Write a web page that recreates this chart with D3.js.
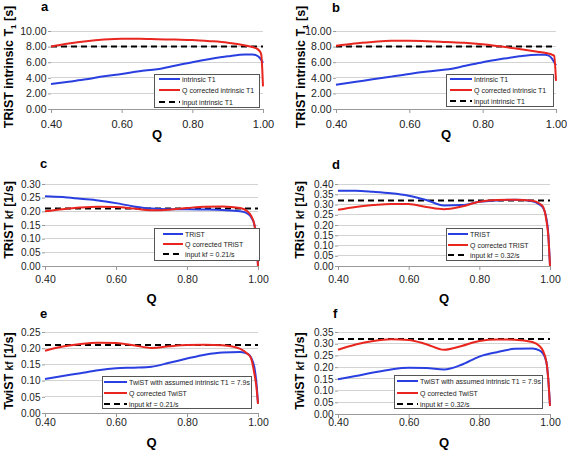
<!DOCTYPE html>
<html><head><meta charset="utf-8">
<script src="https://cdn.jsdelivr.net/npm/d3@7"></script>
<style>body{margin:0;background:#fff}svg{display:block}text{font-family:"Liberation Sans",Arial,sans-serif}</style>
</head><body><svg id="chart" width="567" height="451"></svg>
<script>
// Q grid shared by all series
const qValues = [0.40,0.45,0.50,0.55,0.60,0.65,0.70,0.75,0.80,0.85,0.90,0.95,0.97,0.98,0.99,0.995,1.00];
const xTicks = [0.40,0.60,0.80,1.00];

// a
const aIntrinsic = [3.2,3.5,3.8,4.2,4.5,4.85,5.1,5.55,6.0,6.4,6.75,7.0,7.0,6.9,6.6,6.3,5.9];
const aCorrected = [8.0,8.4,8.7,8.9,9.0,9.0,8.95,8.9,8.85,8.7,8.5,8.15,7.95,7.8,7.45,7.0,2.9];
const aInput = 8.0;
const aTicks = [0,2,4,6,8,10];
const aLegend = ["intrinsic T1","Q corrected intrinsic T1","input intrinsic T1"];
// b
const bIntrinsic = [3.1,3.45,3.8,4.15,4.5,4.8,5.05,5.5,6.0,6.4,6.75,6.95,6.95,6.85,6.4,6.0,5.6];
const bCorrected = [8.1,8.4,8.6,8.75,8.75,8.7,8.6,8.5,8.3,8.0,7.7,7.35,7.2,7.1,6.95,6.8,3.6];
const bInput = 8.0;
const bTicks = [0,2,4,6,8,10];
const bLegend = ["Intrinsic T1","Q corrected intrinsic T1","input intrinsic T1"];
// c
const cTrist = [0.255,0.252,0.246,0.240,0.230,0.218,0.210,0.208,0.208,0.207,0.205,0.200,0.192,0.180,0.150,0.110,0.0];
const cCorrected = [0.200,0.208,0.214,0.217,0.216,0.210,0.204,0.206,0.212,0.217,0.218,0.212,0.200,0.185,0.150,0.100,0.0];
const cInput = 0.21;
const cTicks = [0,0.05,0.10,0.15,0.20,0.25,0.30];
const cLegend = ["TRiST","Q corrected TRiST","input kf = 0.21/s"];
// d
const dTrist = [0.367,0.367,0.362,0.355,0.343,0.322,0.295,0.297,0.313,0.320,0.323,0.316,0.300,0.285,0.230,0.160,0.0];
const dCorrected = [0.274,0.288,0.297,0.303,0.302,0.288,0.277,0.290,0.313,0.322,0.323,0.318,0.305,0.290,0.220,0.150,0.0];
const dInput = 0.32;
const dTicks = [0,0.05,0.10,0.15,0.20,0.25,0.30,0.35,0.40];
const dLegend = ["TRIST","Q corrected TRIST","input kf = 0.32/s"];
// e
const eTwist = [0.105,0.114,0.123,0.132,0.138,0.140,0.143,0.155,0.168,0.180,0.187,0.188,0.183,0.172,0.140,0.100,0.030];
const eCorrected = [0.192,0.205,0.213,0.217,0.216,0.209,0.201,0.206,0.210,0.211,0.209,0.198,0.183,0.170,0.120,0.085,0.028];
const eInput = 0.21;
const eTicks = [0,0.05,0.10,0.15,0.20,0.25];
const eLegend = ["TwiST with assumed intrinsic T1 = 7.9s","Q corrected TwiST","input kf = 0.21/s"];
// f
const fTwist = [0.148,0.162,0.177,0.190,0.197,0.196,0.190,0.210,0.245,0.264,0.278,0.280,0.272,0.258,0.220,0.150,0.035];
const fCorrected = [0.274,0.297,0.312,0.319,0.316,0.298,0.274,0.290,0.312,0.318,0.317,0.307,0.290,0.270,0.220,0.150,0.034];
const fInput = 0.32;
const fTicks = [0,0.05,0.10,0.15,0.20,0.25,0.30,0.35];
const fLegend = ["TwiST with assumed intrinsic T1 = 7.9s","Q corrected TwiST","input kf = 0.32/s"];

const BLUE = "#2a3fe0", RED = "#e8261f";

const panels = [
 {letter:"a", blue:aIntrinsic, red:aCorrected, input:aInput, ticks:aTicks, legend:aLegend, yl:"T1", tfs:10.5,
  x0:51,x1:263,yT:31,yB:109, lx:41,ly:11, ylx:12.5,yly:67, qy:139, tb:128,
  box:[154,74,105,33], rows:[79,90,102], sx:[159,180]},
 {letter:"b", blue:bIntrinsic, red:bCorrected, input:bInput, ticks:bTicks, legend:bLegend, yl:"T1", tfs:10.5,
  x0:336,x1:556,yT:31,yB:109, lx:332,ly:12, ylx:304.5,yly:67, qy:139, tb:128,
  box:[446,74,107,32], rows:[79,90,101], sx:[450,472]},
 {letter:"c", blue:cTrist, red:cCorrected, input:cInput, ticks:cTicks, legend:cLegend, yl:"TRiST", tfs:10,
  x0:45,x1:258,yT:184,yB:266, lx:40,ly:168, ylx:12.5,yly:220, qy:303, tb:283,
  box:[154,228,105,32], rows:[234,244,254], sx:[163,183]},
 {letter:"d", blue:dTrist, red:dCorrected, input:dInput, ticks:dTicks, legend:dLegend, yl:"TRiST", tfs:10,
  x0:338,x1:550,yT:184,yB:266, lx:332,ly:169, ylx:304,yly:220, qy:303, tb:283,
  box:[446,228,96,32], rows:[234,245,255], sx:[448,468]},
 {letter:"e", blue:eTwist, red:eCorrected, input:eInput, ticks:eTicks, legend:eLegend, yl:"TwiST", tfs:10,
  x0:45,x1:258,yT:332,yB:413, lx:40,ly:318, ylx:12.5,yly:371, qy:447, tb:426,
  box:[102,376,149,32], rows:[382,393,404], sx:[104,127]},
 {letter:"f", blue:fTwist, red:fCorrected, input:fInput, ticks:fTicks, legend:fLegend, yl:"TwiST", tfs:10,
  x0:338,x1:550,yT:332,yB:414, lx:333,ly:318, ylx:304,yly:371, qy:447, tb:426,
  box:[394,375,148,33], rows:[381,393,404], sx:[397,418]}
];

const svg = d3.select("#chart");
const fmt = d3.format(".2f");

panels.forEach(p => {
  const g = svg.append("g");
  const TFS = p.tfs;
  const x = d3.scaleLinear().domain([0.4,1.0]).range([p.x0,p.x1]);
  const yMax = p.ticks[p.ticks.length-1];
  const y = d3.scaleLinear().domain([0,yMax]).range([p.yB,p.yT]);

  // grid
  g.append("g").selectAll("line").data(p.ticks.filter(t=>t>0)).join("line")
    .attr("x1",p.x0).attr("x2",p.x1).attr("y1",d=>y(d)).attr("y2",d=>y(d))
    .attr("stroke","#d3d3d3").attr("stroke-width",1).attr("shape-rendering","crispEdges");

  // y axis
  const ya = g.append("g").attr("transform",`translate(${p.x0},0)`)
    .call(d3.axisLeft(y).tickValues(p.ticks).tickFormat(fmt).tickSize(3).tickPadding(1.5));
  ya.select(".domain").remove();
  ya.selectAll("line").attr("stroke","#999");
  ya.selectAll("text").attr("font-size",TFS).attr("fill","#222").style("font-family","'Liberation Sans',Arial,sans-serif");

  // x axis
  const pad = p.tb - p.yB - 4 - 0.71*TFS;
  const xa = g.append("g").attr("transform",`translate(0,${p.yB})`)
    .call(d3.axisBottom(x).tickValues(xTicks).tickFormat(fmt).tickSize(4).tickPadding(pad).tickSizeOuter(0));
  xa.select(".domain").attr("stroke","#999");
  xa.selectAll("line").attr("stroke","#999");
  xa.selectAll("text").attr("font-size",TFS+0.5).attr("fill","#222").style("font-family","'Liberation Sans',Arial,sans-serif");

  // input dashed line
  g.append("line").attr("x1",x(0.4)).attr("x2",x(1.0)).attr("y1",y(p.input)).attr("y2",y(p.input))
    .attr("stroke","#000").attr("stroke-width",2).attr("stroke-dasharray","6,4");

  const line = d3.line().x((d,i)=>x(qValues[i])).y(d=>y(d)).curve(d3.curveMonotoneX);
  g.append("path").datum(p.blue).attr("d",line).attr("fill","none").attr("stroke",BLUE).attr("stroke-width",2);
  g.append("path").datum(p.red).attr("d",line).attr("fill","none").attr("stroke",RED).attr("stroke-width",2);

  // legend
  const [bx,by,bw,bh] = p.box;
  g.append("rect").attr("x",bx+0.5).attr("y",by+0.5).attr("width",bw).attr("height",bh)
    .attr("fill","#fff").attr("stroke","#555").attr("stroke-width",1);
  const styles = [{c:BLUE,d:null},{c:RED,d:null},{c:"#000",d:"6,4"}];
  p.legend.forEach((t,i)=>{
    g.append("line").attr("x1",p.sx[0]).attr("x2",p.sx[1]).attr("y1",p.rows[i]).attr("y2",p.rows[i])
      .attr("stroke",styles[i].c).attr("stroke-width",2).attr("stroke-dasharray",styles[i].d);
    g.append("text").attr("x",p.sx[1]+2).attr("y",p.rows[i]+2.5).attr("font-size",7).attr("fill","#222").text(t);
  });

  // panel letter
  g.append("text").attr("x",p.lx).attr("y",p.ly).attr("font-size",13).attr("font-weight","bold").text(p.letter);
  // Q label
  g.append("text").attr("x",(p.x0+p.x1)/2).attr("y",p.qy).attr("text-anchor","middle")
    .attr("font-size",13).attr("font-weight","bold").text("Q");
  // y label
  const yl = g.append("text").attr("transform",`translate(${p.ylx},${p.yly}) rotate(-90)`)
    .attr("text-anchor","middle").attr("font-size",12.5).attr("font-weight","bold");
  if (p.yl === "T1") {
    yl.append("tspan").text("TRiST intrinsic T");
    yl.append("tspan").attr("font-size",8).attr("dy",3).text("1");
    yl.append("tspan").attr("dy",-3).text(" [s]");
  } else {
    yl.append("tspan").text(p.yl + " ");
    yl.append("tspan").attr("font-size",10).text("kf");
    yl.append("tspan").text(" [1/s]");
  }
});
</script></body></html>
